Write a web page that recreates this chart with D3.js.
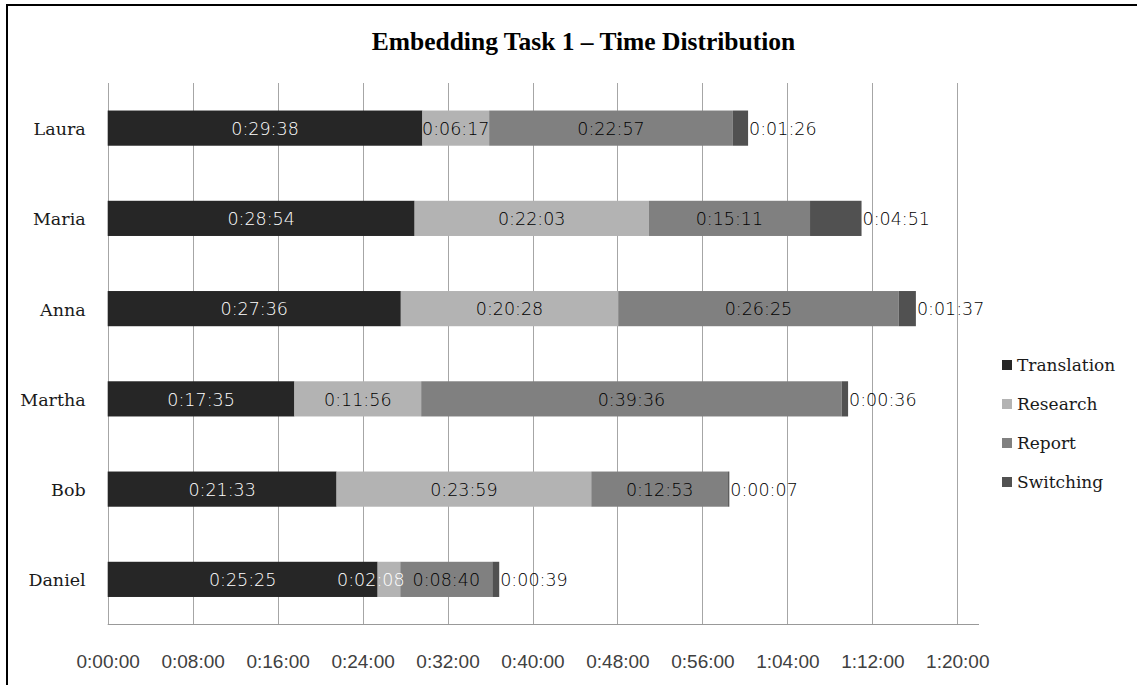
<!DOCTYPE html>
<html>
<head>
<meta charset="utf-8">
<script src="https://cdn.jsdelivr.net/npm/d3@7"></script>
<style>
  html, body { margin: 0; padding: 0; background: #fff; }
  svg { display: block; }
</style>
</head>
<body>
<div id="chart"></div>
<script>
// Participants, top to bottom
const people = ["Laura", "Maria", "Anna", "Martha", "Bob", "Daniel"];

// Time spent per activity (h:mm:ss), one entry per participant
const translation = ["0:29:38", "0:28:54", "0:27:36", "0:17:35", "0:21:33", "0:25:25"];
const research    = ["0:06:17", "0:22:03", "0:20:28", "0:11:56", "0:23:59", "0:02:08"];
const report      = ["0:22:57", "0:15:11", "0:26:25", "0:39:36", "0:12:53", "0:08:40"];
const switching   = ["0:01:26", "0:04:51", "0:01:37", "0:00:36", "0:00:07", "0:00:39"];

const seriesNames = ["Translation", "Research", "Report", "Switching"];
const seriesData = [translation, research, report, switching];
const seriesColors = ["#262626", "#b3b3b3", "#808080", "#515151"];
const darkSeries = [true, false, false, true];

// Axis ticks every 8 minutes
const tickLabels = ["0:00:00", "0:08:00", "0:16:00", "0:24:00", "0:32:00", "0:40:00",
                    "0:48:00", "0:56:00", "1:04:00", "1:12:00", "1:20:00"];

const toSec = s => { const [h, m, x] = s.split(":").map(Number); return h * 3600 + m * 60 + x; };

const W = 1137, H = 685;
const svg = d3.select("#chart").append("svg").attr("width", W).attr("height", H);

// Chart frame
svg.append("rect").attr("x", 7).attr("y", 5).attr("width", W + 20).attr("height", H + 20)
  .attr("fill", "#fff").attr("stroke", "#000").attr("stroke-width", 2);

svg.append("text")
  .attr("x", 583.5).attr("y", 50)
  .attr("text-anchor", "middle")
  .style("font-family", "'Liberation Serif', 'Times New Roman', serif")
  .style("font-weight", "bold").style("font-size", "25.5px")
  .text("Embedding Task 1 \u2013 Time Distribution");

const plotTop = 83, plotBottom = 624.5;
const x = d3.scaleLinear().domain([0, toSec("1:20:00")]).range([107.7, 957.3]);
const y = d3.scaleBand().domain(people).range([plotTop, plotBottom])
  .paddingInner(0.61).paddingOuter(0.305);

// Vertical gridlines
const tickVals = tickLabels.map(toSec);
svg.append("g").selectAll("line").data(tickVals).join("line")
  .attr("x1", d => Math.round(x(d)) + 0.5).attr("x2", d => Math.round(x(d)) + 0.5)
  .attr("y1", plotTop).attr("y2", plotBottom)
  .attr("stroke", "#a6a6a6").attr("stroke-width", 1);

// Bottom axis: line plus time labels, no tick marks
const xAxis = d3.axisBottom(x).tickValues(tickVals)
  .tickFormat((d, i) => tickLabels[i]).tickSize(0).tickPadding(30);
const ax = svg.append("g").attr("transform", `translate(0,${plotBottom})`).call(xAxis);
ax.select(".domain").remove();
ax.selectAll("text")
  .style("font-family", "'Liberation Sans', Arial, sans-serif")
  .style("font-size", "19px").attr("fill", "#404040");
svg.append("line").attr("x1", 107.7).attr("x2", 979)
  .attr("y1", plotBottom).attr("y2", plotBottom)
  .attr("stroke", "#999").attr("stroke-width", 1.2);

// Category labels
const yAxis = d3.axisLeft(y).tickSize(0).tickPadding(22);
const ay = svg.append("g").attr("transform", "translate(107.7,0)").call(yAxis);
ay.select(".domain").remove();
ay.selectAll("text")
  .attr("dy", "0.4em")
  .style("font-family", "'DejaVu Serif', serif")
  .style("font-size", "17.5px").attr("fill", "#1a1a1a");

// Stack the segments
const rows = people.map((p, i) => {
  let acc = 0;
  return seriesData.map((s, k) => {
    const v = toSec(s[i]);
    const seg = { person: p, k, label: s[i], x0: acc, x1: acc + v };
    acc += v;
    return seg;
  });
});

const bars = svg.append("g");
rows.forEach(segs => {
  bars.selectAll(null).data(segs).join("rect")
    .attr("x", d => x(d.x0)).attr("width", d => x(d.x1) - x(d.x0))
    .attr("y", d => y(d.person)).attr("height", y.bandwidth())
    .attr("fill", d => seriesColors[d.k]);
});

// Value labels: inside segments, last one just after the bar end
const labels = svg.append("g")
  .style("font-family", "'DejaVu Sans', Verdana, sans-serif")
  .style("font-size", "17.5px").style("font-weight", 300);

rows.forEach(segs => {
  const items = segs.map((d, idx) => {
    const t = labels.append("text")
      .attr("y", y(d.person) + y.bandwidth() / 2)
      .attr("dy", "0.38em")
      .text(d.label);
    const w = t.node().getComputedTextLength();
    const last = idx === segs.length - 1;
    const left = last ? x(d.x1) + 1 : (x(d.x0) + x(d.x1)) / 2 - w / 2;
    return { d, t, w, left, last };
  });
  // push inner labels left so neighbours don't collide
  for (let i = items.length - 3; i >= 0; i--) {
    const next = items[i + 1];
    const maxRight = next.left - 8;
    if (items[i].left + items[i].w > maxRight) items[i].left = maxRight - items[i].w;
  }
  items.forEach(it => {
    it.t.attr("x", it.left);
    let fill = "#000";
    if (!it.last) {
      const cx = it.left + it.w / 2;
      const under = segs.find(s => cx >= x(s.x0) && cx <= x(s.x1)) || it.d;
      fill = darkSeries[under.k] ? "#fff" : "#000";
    }
    it.t.attr("fill", fill);
  });
});

// Legend
const legend = svg.append("g");
seriesNames.forEach((name, i) => {
  const cy = 365 + i * 39;
  legend.append("rect").attr("x", 1002).attr("y", cy - 5).attr("width", 10).attr("height", 10)
    .attr("fill", seriesColors[i]);
  legend.append("text").attr("x", 1017).attr("y", cy).attr("dy", "0.35em")
    .style("font-family", "'DejaVu Serif', serif").style("font-size", "17px")
    .attr("fill", "#1a1a1a").text(name);
});
</script>
</body>
</html>
